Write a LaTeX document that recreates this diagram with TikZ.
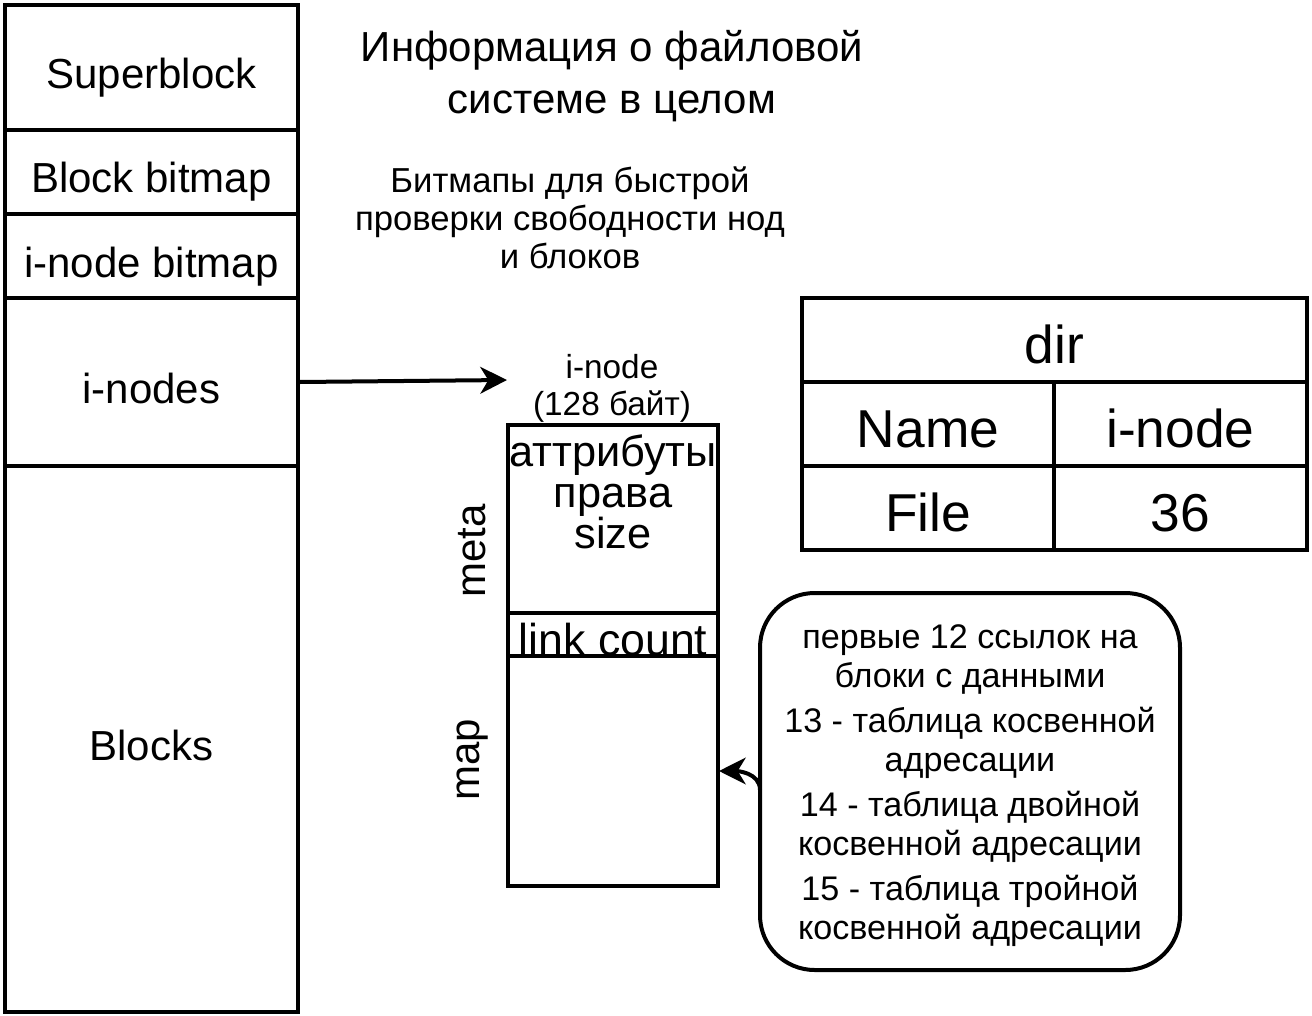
\documentclass[tikz,border=0pt]{standalone}
\usepackage{fontspec}
\setmainfont{Liberation Sans}
\usetikzlibrary{arrows.meta}
\begin{document}
\begin{tikzpicture}[x=0.75pt,y=-0.75pt,
  cell/.style={draw=black,line width=3pt,inner sep=0pt,align=center},
  big/.style={font=\fontsize{31.5}{37}\selectfont},
  bigcell/.style={cell,big,text height=31.5pt,text depth=0pt},
  mid/.style={font=\fontsize{26}{28.5}\selectfont,align=center},
  tbl/.style={cell,font=\fontsize{40}{48}\selectfont,text height=34.8pt,text depth=0pt},
  arr/.style={line width=3pt,-{Stealth[length=20pt,width=20pt,inset=6pt]}}]
\useasboundingbox (0,0) rectangle (1312,1016);
% left column
\node[bigcell,minimum width=219.75pt,minimum height=93.75pt] (super) at (151.5,67.5) {Superblock};
\node[bigcell,minimum width=219.75pt,minimum height=63pt] (bbm) at (151.5,172) {Block bitmap};
\node[bigcell,minimum width=219.75pt,minimum height=63pt] (ibm) at (151.5,256) {i-node bitmap};
\node[bigcell,minimum width=219.75pt,minimum height=126pt] (inodes) at (151.5,382) {i-nodes};
\node[bigcell,minimum width=219.75pt,minimum height=409.5pt] (blocks) at (151.5,739) {Blocks};
% notes
\node[align=center,font=\fontsize{31.5}{39}\selectfont] (title) at (612,76) {Информация о файловой\\системе в целом};
\node[mid] (bmnote) at (570,217.5) {Битмапы для быстрой\\проверки свободности нод\\и блоков};
\node[mid,font=\fontsize{25}{27.75}\selectfont] (inlabel) at (612,388.5) {i-node\\(128 байт)};
% i-node box
\node[cell,minimum width=157.5pt,minimum height=141pt] (meta) at (613,519) {};
\node[cell,minimum width=157.5pt,minimum height=32.25pt] (link) at (613,634.5) {};
\node[cell,minimum width=157.5pt,minimum height=172.5pt] (map) at (613,771) {};
\node[align=center,font=\fontsize{32.5}{30.75}\selectfont] (attr) at (613,492) {аттрибуты\\права\\size};
\node[font=\fontsize{33.5}{38}\selectfont] (linktxt) at (613,640) {link count};
\node[big,rotate=90] (metalbl) at (472,551) {meta};
\node[big,rotate=90] (maplbl) at (473,760) {map};
% dir table
\node[tbl,minimum width=378.75pt,minimum height=63pt] (dir) at (1054.5,340) {dir};
\node[tbl,minimum width=189pt,minimum height=63pt] (name) at (928,424) {Name};
\node[tbl,minimum width=189.75pt,minimum height=63pt] (inh) at (1180.5,424) {i-node};
\node[tbl,minimum width=189pt,minimum height=63pt] (file) at (928,508) {File};
\node[tbl,minimum width=189.75pt,minimum height=63pt] (num) at (1180.5,508) {36};
% rounded note
\node[cell,rounded corners=41pt,minimum width=315pt,minimum height=282.75pt] (rbox) at (970,781.5) {};
\node[align=center,font=\fontsize{25.6}{29.25}\selectfont] (rtext) at (970,786)
  {первые 12 ссылок на\\блоки с данными\\[4.5pt]13 - таблица косвенной\\адресации\\[4.5pt]14 - таблица двойной\\косвенной адресации\\[4.5pt]15 - таблица тройной\\косвенной адресации};
% arrows
\coordinate (tipA) at (507,380);
\draw[arr] (inodes.east) -- (tipA);
\coordinate (cstart) at (760,790);
\coordinate (ctip) at (719,771);
\draw[arr] (cstart) to[out=90,in=0] (ctip);
\end{tikzpicture}
\end{document}
